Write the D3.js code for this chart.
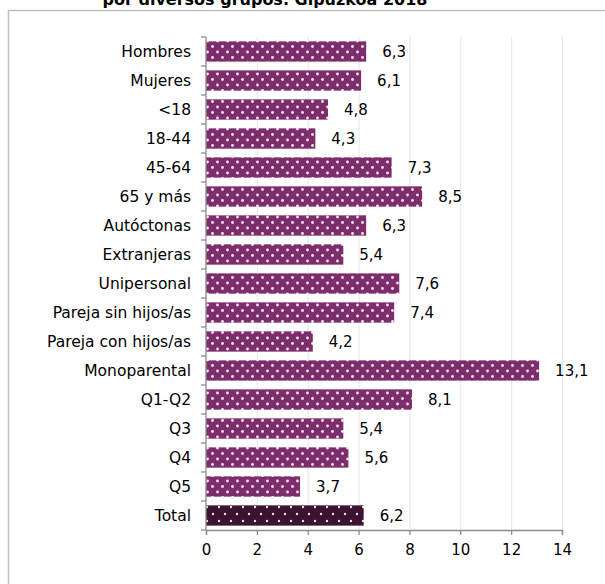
<!DOCTYPE html>
<html><head><meta charset="utf-8">
<script src="https://cdn.jsdelivr.net/npm/d3@7"></script>
<style>body{margin:0;background:#fff}svg{display:block}</style>
</head><body>
<script>
const categories = ["Hombres","Mujeres","<18","18-44","45-64","65 y más","Autóctonas","Extranjeras","Unipersonal","Pareja sin hijos/as","Pareja con hijos/as","Monoparental","Q1-Q2","Q3","Q4","Q5","Total"];
const values = [6.3,6.1,4.8,4.3,7.3,8.5,6.3,5.4,7.6,7.4,4.2,13.1,8.1,5.4,5.6,3.7,6.2];
const xTicks = [0,2,4,6,8,10,12,14];
const title = "por diversos grupos. Gipuzkoa 2018";

const W = 605, H = 584;
const font = "'DejaVu Sans', Verdana, sans-serif";
const svg = d3.select("body").append("svg").attr("width", W).attr("height", H);

const defs = svg.append("defs");
const p1 = defs.append("pattern").attr("id","dots").attr("patternUnits","userSpaceOnUse")
  .attr("width",10).attr("height",11);
p1.append("rect").attr("width",10).attr("height",11).attr("fill","#7d2d6b");
p1.append("circle").attr("cx",2.5).attr("cy",2.5).attr("r",1.4).attr("fill","#f5e9f2");
p1.append("circle").attr("cx",7.5).attr("cy",8).attr("r",1.4).attr("fill","#f5e9f2");
const p2 = defs.append("pattern").attr("id","dots2").attr("patternUnits","userSpaceOnUse")
  .attr("width",12).attr("height",14);
p2.append("rect").attr("width",12).attr("height",14).attr("fill","#3a1430");
p2.append("circle").attr("cx",3).attr("cy",3).attr("r",1.2).attr("fill","#e8dde6");
p2.append("circle").attr("cx",9).attr("cy",10).attr("r",1.2).attr("fill","#e8dde6");

// outer border
svg.append("rect").attr("x",8.5).attr("y",10.5).attr("width",700).attr("height",700)
  .attr("fill","none").attr("stroke","#bfbfbf").attr("stroke-width",1.5);

// title (cut off at top, as in the reference)
svg.append("text").attr("x",265).attr("y",5).attr("text-anchor","middle")
  .attr("font-family",font).attr("font-weight","bold").attr("font-size",16)
  .attr("fill","#000").text(title);

const x = d3.scaleLinear().domain([0,14]).range([206,562]);
const y = d3.scaleBand().domain(categories).range([37,530]).paddingInner(0.3).paddingOuter(0.15);

// gridlines
svg.append("g").selectAll("line").data(xTicks.filter(d=>d>0)).join("line")
  .attr("x1",d=>x(d)+0.5).attr("x2",d=>x(d)+0.5).attr("y1",37).attr("y2",530)
  .attr("stroke","#e6e6e6").attr("stroke-width",1);

// bars
svg.append("g").selectAll("rect").data(categories).join("rect")
  .attr("x",x(0)).attr("y",d=>y(d)).attr("height",y.bandwidth())
  .attr("width",(d,i)=>x(values[i])-x(0))
  .attr("fill",d=>d==="Total"?"url(#dots2)":"url(#dots)");

// value labels
svg.append("g").selectAll("text").data(categories).join("text")
  .attr("x",(d,i)=>x(values[i])+16).attr("y",d=>y(d)+y.bandwidth()/2)
  .attr("dy","0.36em").attr("font-family",font).attr("font-size",15).attr("fill","#000")
  .text((d,i)=>String(values[i]).replace(".",","));

// category labels
svg.append("g").selectAll("text").data(categories).join("text")
  .attr("x",191).attr("y",d=>y(d)+y.bandwidth()/2)
  .attr("dy","0.36em").attr("text-anchor","end").attr("font-family",font).attr("font-size",15.5).attr("fill","#000")
  .text(d=>d);

// y axis line + boundary ticks
const yAx = svg.append("g").attr("stroke","#8c8c8c").attr("stroke-width",1.3);
yAx.append("line").attr("x1",x(0)).attr("x2",x(0)).attr("y1",37).attr("y2",530);
yAx.selectAll("line.t").data(d3.range(categories.length+1)).join("line").attr("class","t")
  .attr("x1",x(0)-5).attr("x2",x(0)).attr("y1",i=>37+i*y.step()).attr("y2",i=>37+i*y.step());

// x axis
const xa = svg.append("g").attr("transform","translate(0,530)")
  .call(d3.axisBottom(x).tickValues(xTicks).tickSize(5).tickPadding(9).tickFormat(d=>d));
xa.select(".domain").attr("stroke","#8c8c8c").attr("stroke-width",1.3);
xa.selectAll(".tick line").attr("stroke","#8c8c8c").attr("stroke-width",1.3);
xa.selectAll(".tick text").attr("font-family",font).attr("font-size",15).attr("fill","#000");
</script>
</body></html>
